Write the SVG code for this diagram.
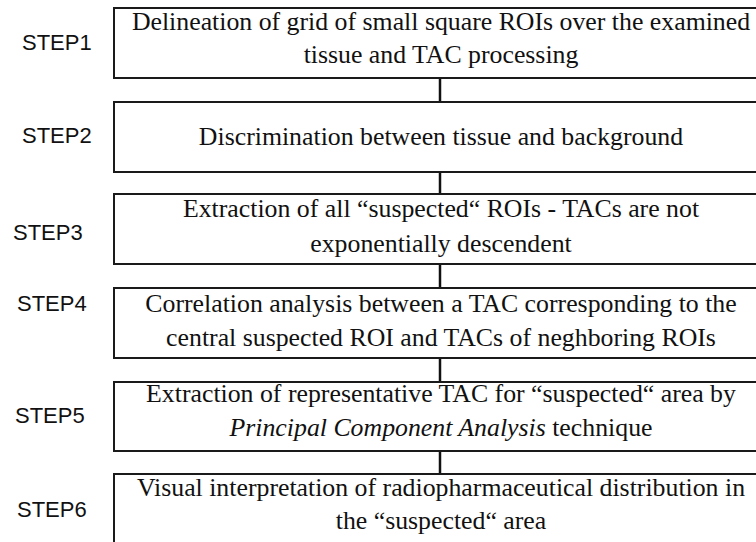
<svg xmlns="http://www.w3.org/2000/svg" width="756" height="542" viewBox="0 0 756 542">
<style>
.box{fill:#fff;stroke:#1a1a1a;stroke-width:2}
.t{font-family:"Liberation Serif","Times New Roman",serif;font-size:25.8px;fill:#111;text-anchor:middle}
.s{font-family:"Liberation Sans",Arial,sans-serif;font-size:22px;fill:#111}
.c{stroke:#111;stroke-width:2.5;fill:none}
</style>
<rect width="756" height="542" fill="#fff"/>
<g id="connectors">
<line class="c" x1="440" y1="78" x2="440" y2="102"/>
<line class="c" x1="440" y1="172" x2="440" y2="194"/>
<line class="c" x1="440" y1="264" x2="440" y2="288"/>
<line class="c" x1="440" y1="358" x2="440" y2="382"/>
<line class="c" x1="440" y1="451" x2="440" y2="474"/>
</g>
<g id="step1">
<text class="s" x="22" y="50">STEP1</text>
<rect class="box" x="114" y="8" width="660" height="70"/>
<text class="t" x="441" y="30">Delineation of grid of small square ROIs over the examined</text>
<text class="t" x="441" y="63">tissue and TAC processing</text>
</g>
<g id="step2">
<text class="s" x="22" y="143">STEP2</text>
<rect class="box" x="114" y="102" width="660" height="70"/>
<text class="t" x="441" y="145">Discrimination between tissue and background</text>
</g>
<g id="step3">
<text class="s" x="13" y="240">STEP3</text>
<rect class="box" x="114" y="194" width="660" height="70"/>
<text class="t" x="441" y="217">Extraction of all “suspected“ ROIs - TACs are not</text>
<text class="t" x="441" y="252">exponentially descendent</text>
</g>
<g id="step4">
<text class="s" x="17" y="311">STEP4</text>
<rect class="box" x="114" y="288" width="660" height="70"/>
<text class="t" x="441" y="312">Correlation analysis between a TAC corresponding to the</text>
<text class="t" x="441" y="346">central suspected ROI and TACs of neghboring ROIs</text>
</g>
<g id="step5">
<text class="s" x="15" y="423">STEP5</text>
<rect class="box" x="114" y="382" width="660" height="69"/>
<text class="t" x="441" y="402">Extraction of representative TAC for “suspected“ area by</text>
<text class="t" x="441" y="436"><tspan font-style="italic">Principal Component Analysis</tspan> technique</text>
</g>
<g id="step6">
<text class="s" x="17" y="517">STEP6</text>
<rect class="box" x="114" y="474" width="660" height="80"/>
<text class="t" x="441" y="496">Visual interpretation of radiopharmaceutical distribution in</text>
<text class="t" x="441" y="529">the “suspected“ area</text>
</g>
</svg>
